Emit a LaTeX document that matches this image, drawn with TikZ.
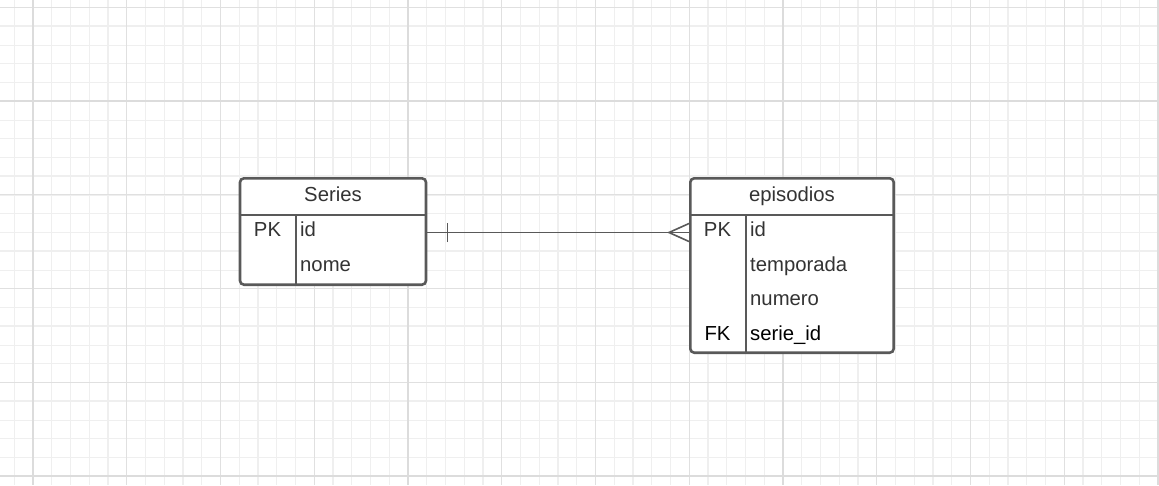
\documentclass[tikz,border=0pt]{standalone}
\usepackage{fontspec}
\setmainfont{Liberation Sans}
\definecolor{boxline}{HTML}{595959}
\definecolor{txt}{HTML}{333333}
\definecolor{gridminor}{HTML}{EFEFEF}
\definecolor{gridquarter}{HTML}{E0E0E0}
\definecolor{gridmajor}{HTML}{DCDCDC}
\tikzset{
	minorline/.style={draw=gridminor, line width=1pt},
	midline/.style={draw=gridminor, line width=2pt},
	quarterline/.style={draw=gridquarter, line width=1pt},
	majorline/.style={draw=gridmajor, line width=2.4pt},
	table/.style={draw=boxline, line width=2.6pt, rounded corners=4pt, fill=white, inner sep=0pt},
	tableline/.style={draw=boxline, line width=2.6pt},
	title/.style={anchor=base, inner sep=0pt, text=txt, font=\fontsize{20.3}{24}\selectfont},
	key/.style={anchor=base, inner sep=0pt, text=txt, font=\fontsize{20.3}{24}\selectfont},
	field/.style={anchor=base west, inner sep=0pt, text=txt, font=\fontsize{20.3}{24}\selectfont},
	link/.style={draw=boxline, line width=1.6pt}
}
\begin{document}
\begin{tikzpicture}[x=1pt, y=-1pt]
	\useasboundingbox[fill=white] (0,0) rectangle (1159,485);
	\foreach \x in {14.25,33,...,1159} \draw[minorline] (\x,0) -- (\x,485);
	\foreach \y in {7.5,26.25,...,485} \draw[minorline] (0,\y) -- (1159,\y);
	\foreach \x in {33,108,...,1159} \draw[midline] (\x,0) -- (\x,485);
	\foreach \y in {26,101,...,485} \draw[midline] (0,\y) -- (1159,\y);
	\foreach \x in {33,126.75,...,1159} \draw[quarterline] (\x,0) -- (\x,485);
	\foreach \y in {7.25,101,...,485} \draw[quarterline] (0,\y) -- (1159,\y);
	\foreach \x in {33,408,783,1158} \draw[majorline] (\x,0) -- (\x,485);
	\foreach \y in {101,476} \draw[majorline] (0,\y) -- (1159,\y);

	\node (series) at (333,231.5) [table, minimum width=186pt, minimum height=106.4pt] {};
	\draw[tableline] (series.west |- 0,215) -- (series.east |- 0,215);
	\draw[tableline] (296,215) -- (296,284.7);
	\node (series-title) at (333,201) [title] {Series};
	\node (series-pk) at (267.5,236.5) [key] {PK};
	\node (series-id) at (300,236.5) [field] {id};
	\node (series-nome) at (300,271) [field] {nome};

	\node (episodios) at (792,265.5) [table, minimum width=203.4pt, minimum height=174.4pt] {};
	\draw[tableline] (episodios.west |- 0,215) -- (episodios.east |- 0,215);
	\draw[tableline] (746,215) -- (746,352.7);
	\node (episodios-title) at (792,201) [title] {episodios};
	\node (episodios-pk) at (717.5,236.5) [key] {PK};
	\node (episodios-id) at (750,236.5) [field] {id};
	\node (episodios-temporada) at (750,271) [field] {temporada};
	\node (episodios-numero) at (750,305.5) [field] {numero};
	\node (episodios-fk) at (717.5,340) [key, text=black] {FK};
	\node (episodios-serie) at (750,340) [field, text=black] {serie\_id};

	\coordinate (series-link) at (series.east |- 0,232.5);
	\coordinate (episodios-link) at (episodios.west |- 0,232.5);
	\draw[link] (series-link) -- (episodios-link);
	\draw[link] ([xshift=20pt, yshift=-9.5pt]series-link) -- ([xshift=20pt, yshift=9.5pt]series-link);
	\draw[link] ([yshift=9pt]episodios-link) -- ([xshift=-20pt]episodios-link) -- ([yshift=-9pt]episodios-link);
\end{tikzpicture}
\end{document}
